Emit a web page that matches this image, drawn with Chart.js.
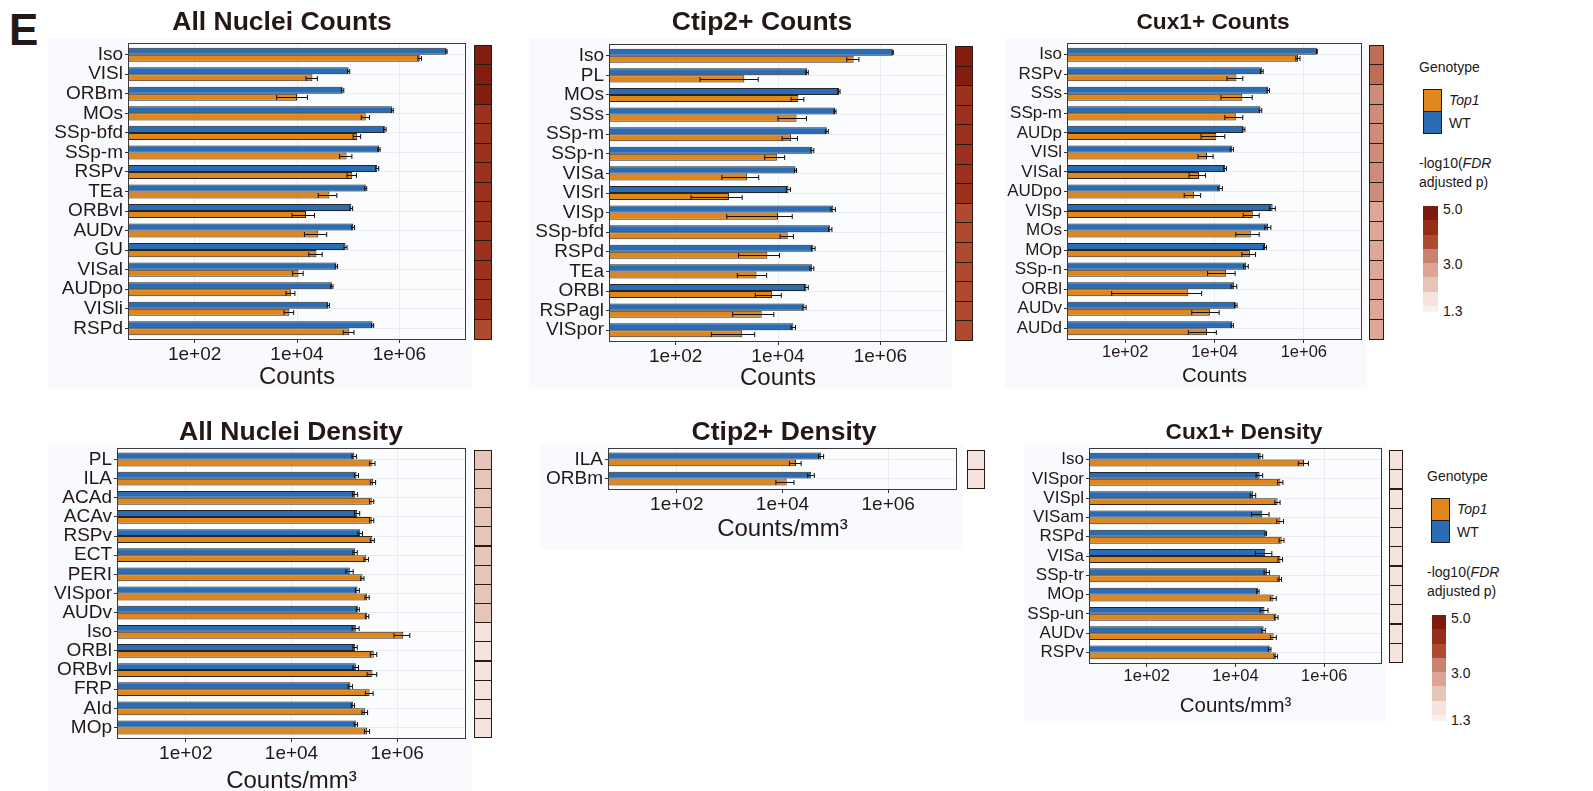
<!DOCTYPE html>
<html>
<head>
<meta charset="utf-8">
<script src="https://cdn.jsdelivr.net/npm/chart.js@4.4.1/dist/chart.umd.min.js"></script>
<style>
    body { margin: 0; width: 1593px; height: 791px; position: relative; overflow: hidden; background: #fff;
           font-family: "Liberation Sans", Arial, sans-serif; color: #231815; }
    .bg { position: absolute; background: #f8fafd; }
    canvas { position: absolute; }
    .txt { position: absolute; white-space: nowrap; line-height: 1; font-size: 14px; }
    .key { position: absolute; box-sizing: border-box; border: 1px solid #231815; width: 19px; }
    .bar { position: absolute; display: flex; flex-direction: column; }
</style>
</head>
<body>
<div class="txt" style="left:9px;top:8px;font-size:44px;font-weight:bold;">E</div>
<div id="root"></div>
<script>
    // shared x axis (log scale)
    var xTickVals = [1e2, 1e4, 1e6];
    var xTickLabels = ['1e+02', '1e+04', '1e+06'];
    var xMin = 5, xMax = 2e7;

    // All Nuclei Counts
    var nucCountCats = ['Iso', 'VISl', 'ORBm', 'MOs', 'SSp-bfd', 'SSp-m', 'RSPv', 'TEa', 'ORBvl', 'AUDv', 'GU', 'VISal', 'AUDpo', 'VISli', 'RSPd'];
    var nucCountWT = [8.3e6, 1.02e5, 7.8e4, 7.3e5, 5.2e5, 4.0e5, 3.7e5, 2.2e5, 1.15e5, 1.25e5, 8.9e4, 5.9e4, 4.8e4, 4.1e4, 3.0e5];
    var nucCountWTErr = [2.5e5, 5e3, 4e3, 3e4, 3e4, 2e4, 2.5e4, 1e4, 7e3, 8e3, 6e3, 3e3, 2.5e3, 2e3, 1.5e4];
    var nucCountTop1 = [2.5e6, 2.0e4, 1.0e4, 2.2e5, 1.5e5, 9.3e4, 1.2e5, 4.3e4, 1.5e4, 2.6e4, 2.4e4, 1.07e4, 7.6e3, 7.1e3, 1.05e5];
    var nucCountTop1Err = [2e5, 5e3, 6e3, 4e4, 2.5e4, 2.5e4, 2.5e4, 1.7e4, 7e3, 1.2e4, 7e3, 2.5e3, 1.5e3, 1.5e3, 2.5e4];
    var nucCountFdr = [4.9, 4.9, 4.9, 4.2, 4.2, 4.2, 4.2, 4.2, 4.2, 4.2, 4.2, 4.2, 4.2, 4.2, 3.8];

    // Ctip2+ Counts
    var ctipCountCats = ['Iso', 'PL', 'MOs', 'SSs', 'SSp-m', 'SSp-n', 'VISa', 'VISrl', 'VISp', 'SSp-bfd', 'RSPd', 'TEa', 'ORBl', 'RSPagl', 'VISpor'];
    var ctipCountWT = [1.74e6, 3.7e4, 1.55e5, 1.3e5, 9e4, 4.7e4, 2.2e4, 1.6e4, 1.2e5, 1.05e5, 4.9e4, 4.6e4, 3.6e4, 3.3e4, 2.0e4];
    var ctipCountWTErr = [5e4, 2e3, 8e3, 6e3, 6e3, 3e3, 1e3, 1.5e3, 1.2e4, 8e3, 4e3, 4e3, 3e3, 2.5e3, 2e3];
    var ctipCountTop1 = [3.0e5, 2.2e3, 2.5e4, 2.3e4, 1.8e4, 9.5e3, 2.5e3, 1.1e3, 1.0e4, 1.55e4, 6.2e3, 3.8e3, 7.6e3, 4.8e3, 2.0e3];
    var ctipCountTop1Err = [8e4, 1.9e3, 7e3, 1.3e4, 6e3, 4e3, 1.7e3, 900, 9e3, 4.5e3, 4.5e3, 2.2e3, 4e3, 3.5e3, 1.5e3];
    var ctipCountFdr = [4.9, 4.9, 4.2, 4.2, 4.2, 4.2, 4.2, 4.2, 3.8, 3.8, 3.8, 3.8, 3.8, 3.8, 3.8];

    // Cux1+ Counts
    var cuxCountCats = ['Iso', 'RSPv', 'SSs', 'SSp-m', 'AUDp', 'VISl', 'VISal', 'AUDpo', 'VISp', 'MOs', 'MOp', 'SSp-n', 'ORBl', 'AUDv', 'AUDd'];
    var cuxCountWT = [1.95e6, 1.15e5, 1.6e5, 1.07e5, 4.5e4, 2.45e4, 1.73e4, 1.35e4, 2.0e5, 1.58e5, 1.35e5, 5.1e4, 2.75e4, 3.0e4, 2.5e4];
    var cuxCountWTErr = [5e4, 8e3, 1e4, 7e3, 3e3, 2e3, 1.2e3, 1.5e3, 3e4, 2.5e4, 1e4, 6e3, 4e3, 2e3, 1.5e3];
    var cuxCountTop1 = [7.4e5, 3.1e4, 4.2e4, 3.0e4, 1.1e4, 6.8e3, 4.5e3, 3.5e3, 7.2e4, 6.5e4, 6.2e4, 1.8e4, 2.6e3, 7.9e3, 6.8e3];
    var cuxCountTop1Err = [8e4, 1.2e4, 2.8e4, 1.3e4, 6e3, 2.5e3, 1.8e3, 1.4e3, 2.8e4, 3.5e4, 2.1e4, 1.1e4, 2550, 4.8e3, 4.2e3];
    var cuxCountFdr = [3.5, 3.5, 3.15, 3.15, 3.15, 3.15, 3.15, 3.15, 2.75, 2.75, 2.75, 2.75, 2.75, 2.75, 2.75];

    // All Nuclei Density
    var nucDensCats = ['PL', 'ILA', 'ACAd', 'ACAv', 'RSPv', 'ECT', 'PERI', 'VISpor', 'AUDv', 'Iso', 'ORBl', 'ORBvl', 'FRP', 'AId', 'MOp'];
    var nucDensWT = [1.54e5, 1.7e5, 1.6e5, 1.75e5, 2.0e5, 1.6e5, 1.27e5, 1.77e5, 1.8e5, 1.65e5, 1.6e5, 1.65e5, 1.3e5, 1.45e5, 1.65e5];
    var nucDensWTErr = [1.5e4, 1.5e4, 1.8e4, 2e4, 2e4, 1.5e4, 2e4, 1.5e4, 1.2e4, 2.5e4, 1.5e4, 2e4, 1.2e4, 1e4, 1.2e4];
    var nucDensTop1 = [3.4e5, 3.5e5, 3.3e5, 3.3e5, 3.4e5, 2.6e5, 2.2e5, 2.7e5, 2.7e5, 1.3e6, 3.6e5, 3.4e5, 3.0e5, 2.45e5, 2.7e5];
    var nucDensTop1Err = [4e4, 4e4, 3e4, 3e4, 3e4, 2.5e4, 1.5e4, 2.5e4, 2e4, 4.3e5, 5e4, 7e4, 5e4, 3e4, 3e4];
    var nucDensFdr = [2.3, 2.3, 2.3, 2.3, 2.3, 2.3, 2.3, 2.3, 2.3, 1.8, 1.8, 1.8, 1.8, 1.8, 1.8];

    // Ctip2+ Density
    var ctipDensCats = ['ILA', 'ORBm'];
    var ctipDensWT = [5.4e4, 3.5e4];
    var ctipDensWTErr = [6e3, 5e3];
    var ctipDensTop1 = [1.8e4, 1.2e4];
    var ctipDensTop1Err = [4.5e3, 4.5e3];
    var ctipDensFdr = [1.8, 1.8];

    // Cux1+ Density
    var cuxDensCats = ['Iso', 'VISpor', 'VISpl', 'VISam', 'RSPd', 'VISa', 'SSp-tr', 'MOp', 'SSp-un', 'AUDv', 'RSPv'];
    var cuxDensWT = [3.7e4, 3.5e4, 2.5e4, 4.0e4, 4.8e4, 4.7e4, 5.1e4, 3.2e4, 4.5e4, 4.3e4, 5.9e4];
    var cuxDensWTErr = [4e3, 6e3, 3.5e3, 1.7e4, 2e3, 1.9e4, 7e3, 2e3, 9e3, 4e3, 4e3];
    var cuxDensTop1 = [3.5e5, 1.03e5, 8.9e4, 1.03e5, 1.1e5, 1.03e5, 1.0e5, 7.2e4, 8.3e4, 7.2e4, 8.1e4];
    var cuxDensTop1Err = [9e4, 1.4e4, 1.2e4, 1.8e4, 1.4e4, 1.2e4, 9e3, 1.1e4, 8e3, 1.1e4, 7e3];
    var cuxDensFdr = [1.8, 1.8, 1.8, 1.8, 1.8, 1.8, 1.8, 1.8, 1.8, 1.8, 1.8];

    // -log10(FDR) colour scale
    var fdrStops = [1.3, 1.8, 2.3, 2.8, 3.3, 3.8, 4.3, 5.0];
    var fdrColors = ['#f8f1ef', '#f4e3df', '#e7c4b8', '#dba493', '#c8826f', '#ae4b2f', '#972c18', '#7f1a0f'];

    var wtColor = '#2b6db4', top1Color = '#e0861b', ink = '#231815';

    Chart.defaults.font.family = '"Liberation Sans", Arial, sans-serif';
    Chart.defaults.color = ink;

    function hexToRgb(h) {
        return [parseInt(h.substr(1, 2), 16), parseInt(h.substr(3, 2), 16), parseInt(h.substr(5, 2), 16)];
    }

    function heatColor(v) {
        if (v <= fdrStops[0]) return fdrColors[0];
        for (var i = 1; i < fdrStops.length; i++) {
            if (v <= fdrStops[i]) {
                var t = (v - fdrStops[i - 1]) / (fdrStops[i] - fdrStops[i - 1]);
                var a = hexToRgb(fdrColors[i - 1]), b = hexToRgb(fdrColors[i]);
                return 'rgb(' + a.map(function (c, k) { return Math.round(c + (b[k] - c) * t); }).join(',') + ')';
            }
        }
        return fdrColors[fdrColors.length - 1];
    }

    // background, error bars, frame, heat strip and title
    var panelDecor = {
        id: 'panelDecor',
        beforeDraw: function (chart) {
            var a = chart.chartArea, ctx = chart.ctx;
            ctx.save();
            ctx.fillStyle = '#fbfcfe';
            ctx.fillRect(a.left, a.top, a.right - a.left, a.bottom - a.top);
            ctx.restore();
        },
        afterDatasetsDraw: function (chart) {
            var ctx = chart.ctx, xs = chart.scales.x;
            ctx.save();
            ctx.strokeStyle = '#111';
            ctx.lineWidth = 1;
            chart.data.datasets.forEach(function (ds, di) {
                chart.getDatasetMeta(di).data.forEach(function (bar, i) {
                    var m = ds.data[i].x, e = ds.errors[i];
                    var x0 = xs.getPixelForValue(Math.max(m - e, xMin));
                    var x1 = xs.getPixelForValue(m + e);
                    var y = Math.round(bar.y) + 0.5;
                    ctx.beginPath();
                    ctx.moveTo(x0, y); ctx.lineTo(x1, y);
                    ctx.moveTo(x0, y - 2.5); ctx.lineTo(x0, y + 2.5);
                    ctx.moveTo(x1, y - 2.5); ctx.lineTo(x1, y + 2.5);
                    ctx.stroke();
                });
            });
            ctx.restore();
        },
        afterDraw: function (chart, args, o) {
            var ctx = chart.ctx, a = chart.chartArea, ys = chart.scales.y;
            ctx.save();
            ctx.strokeStyle = '#3a3a3a';
            ctx.lineWidth = 1;
            ctx.strokeRect(Math.round(a.left) + 0.5, Math.round(a.top) + 0.5, Math.round(a.right - a.left) - 1, Math.round(a.bottom - a.top) - 1);

            var hx = Math.round(a.right + o.heatGap) + 0.5;
            o.fdr.forEach(function (v, i) {
                var y0 = ys.getPixelForValue(i + 0.5), y1 = ys.getPixelForValue(i + 1.5);
                var top = Math.round(Math.min(y0, y1)) + 0.5, h = Math.round(Math.abs(y1 - y0));
                ctx.fillStyle = heatColor(v);
                ctx.fillRect(hx, top, o.heatW, h);
                ctx.strokeStyle = '#2a1a14';
                ctx.strokeRect(hx, top, o.heatW, h);
            });

            ctx.fillStyle = ink;
            ctx.font = 'bold ' + o.titleSize + 'px "Liberation Sans", Arial, sans-serif';
            ctx.textAlign = 'center';
            ctx.textBaseline = 'middle';
            ctx.fillText(o.title, o.titleX, o.titleY);
            ctx.restore();
        }
    };

    var panels = [
        { title: 'All Nuclei Counts', axis: 'Counts', cats: nucCountCats, wt: nucCountWT, wtErr: nucCountWTErr, top1: nucCountTop1, top1Err: nucCountTop1Err, fdr: nucCountFdr,
          plot: [128, 43, 466, 340], titleX: 282, titleY: 23, small: false, axisOff: 38, heatGap: 8, heatW: 17, bg: [48, 38, 472, 388] },
        { title: 'Ctip2+ Counts', axis: 'Counts', cats: ctipCountCats, wt: ctipCountWT, wtErr: ctipCountWTErr, top1: ctipCountTop1, top1Err: ctipCountTop1Err, fdr: ctipCountFdr,
          plot: [609, 44, 947, 342], titleX: 762, titleY: 23, small: false, axisOff: 37, heatGap: 8, heatW: 17, bg: [529, 38, 952, 388] },
        { title: 'Cux1+ Counts', axis: 'Counts', cats: cuxCountCats, wt: cuxCountWT, wtErr: cuxCountWTErr, top1: cuxCountTop1, top1Err: cuxCountTop1Err, fdr: cuxCountFdr,
          plot: [1067, 43, 1362, 340], titleX: 1213, titleY: 23, small: true, axisOff: 37, heatGap: 7, heatW: 14, bg: [1005, 38, 1367, 388] },
        { title: 'All Nuclei Density', axis: 'Counts/mm\u00b3', cats: nucDensCats, wt: nucDensWT, wtErr: nucDensWTErr, top1: nucDensTop1, top1Err: nucDensTop1Err, fdr: nucDensFdr,
          plot: [117, 448, 466, 739], titleX: 291, titleY: 433, small: false, axisOff: 43, heatGap: 8, heatW: 17, bg: [48, 443, 472, 791] },
        { title: 'Ctip2+ Density', axis: 'Counts/mm\u00b3', cats: ctipDensCats, wt: ctipDensWT, wtErr: ctipDensWTErr, top1: ctipDensTop1, top1Err: ctipDensTop1Err, fdr: ctipDensFdr,
          plot: [608, 448, 957, 490], titleX: 784, titleY: 433, small: false, axisOff: 40, heatGap: 10, heatW: 17, bg: [540, 443, 963, 550] },
        { title: 'Cux1+ Density', axis: 'Counts/mm\u00b3', cats: cuxDensCats, wt: cuxDensWT, wtErr: cuxDensWTErr, top1: cuxDensTop1, top1Err: cuxDensTop1Err, fdr: cuxDensFdr,
          plot: [1089, 448, 1382, 664], titleX: 1244, titleY: 433, small: true, axisOff: 43, heatGap: 7, heatW: 13, bg: [1024, 443, 1386, 723] }
    ];

    var root = document.getElementById('root');

    panels.forEach(function (p) {
        var bg = document.createElement('div');
        bg.className = 'bg';
        bg.style.cssText = 'left:' + p.bg[0] + 'px;top:' + p.bg[1] + 'px;width:' + (p.bg[2] - p.bg[0]) + 'px;height:' + (p.bg[3] - p.bg[1]) + 'px;';
        root.appendChild(bg);
    });

    panels.forEach(function (p) {
        var L = p.plot[0], T = p.plot[1], R = p.plot[2], B = p.plot[3];
        var fs = p.small ? { label: 17, tick: 16.5, axis: 20.5, title: 22.7 } : { label: 19, tick: 19, axis: 24, title: 26.5 };
        var yW = 95, padTop = 40;
        var hX = Math.round(p.axisOff + 0.6 * fs.axis);
        var padRight = p.heatGap + p.heatW + 3;
        var left = L - yW, top = T - padTop;
        var width = R + padRight - left, height = B + hX - top;
        var n = p.cats.length;

        var canvas = document.createElement('canvas');
        canvas.width = width; canvas.height = height;
        canvas.style.cssText = 'left:' + left + 'px;top:' + top + 'px;width:' + width + 'px;height:' + height + 'px;';
        root.appendChild(canvas);

        new Chart(canvas, {
            type: 'bar',
            data: {
                datasets: [
                    { label: 'WT', data: p.wt.map(function (v, i) { return { x: v, y: i + 1 }; }), errors: p.wtErr,
                      backgroundColor: wtColor, borderColor: '#262626', borderWidth: 1, borderSkipped: false },
                    { label: 'Top1', data: p.top1.map(function (v, i) { return { x: v, y: i + 1 }; }), errors: p.top1Err,
                      backgroundColor: top1Color, borderColor: '#262626', borderWidth: 1, borderSkipped: false }
                ]
            },
            options: {
                indexAxis: 'y',
                responsive: false,
                animation: false,
                devicePixelRatio: 1,
                categoryPercentage: 0.72,
                barPercentage: 1,
                layout: { padding: { top: padTop, right: padRight, left: 0, bottom: 0 } },
                plugins: {
                    legend: { display: false },
                    tooltip: { enabled: false },
                    panelDecor: {
                        title: p.title, titleX: p.titleX - left, titleY: p.titleY - top, titleSize: fs.title,
                        fdr: p.fdr, heatGap: p.heatGap, heatW: p.heatW
                    }
                },
                scales: {
                    x: {
                        type: 'logarithmic', min: xMin, max: xMax,
                        afterBuildTicks: function (s) { s.ticks = xTickVals.map(function (v) { return { value: v }; }); },
                        afterFit: function (s) { s.height = hX; },
                        ticks: {
                            callback: function (v) { return xTickLabels[xTickVals.indexOf(v)]; },
                            font: { size: fs.tick }, color: ink, padding: 0, autoSkip: false, maxRotation: 0
                        },
                        grid: { color: '#e9ebee', tickColor: '#333', tickLength: 3, offset: false },
                        border: { display: false },
                        title: { display: true, text: p.axis, font: { size: fs.axis }, color: ink, padding: 0 }
                    },
                    y: {
                        type: 'linear', reverse: true, min: 0.4, max: n + 0.6, offset: false,
                        afterBuildTicks: function (s) { s.ticks = p.cats.map(function (c, i) { return { value: i + 1 }; }); },
                        afterFit: function (s) { s.width = yW; },
                        ticks: {
                            callback: function (v) { return p.cats[v - 1]; },
                            font: { size: fs.label }, color: ink, padding: 2, autoSkip: false
                        },
                        grid: { color: '#e9ebee', tickColor: '#333', tickLength: 3, offset: false },
                        border: { display: false }
                    }
                }
            },
            plugins: [panelDecor]
        });
    });

    // legends (Genotype + -log10 FDR colour bar)
    function addText(html, x, cy, extra) {
        var d = document.createElement('div');
        d.className = 'txt';
        d.innerHTML = html;
        d.style.cssText = 'left:' + x + 'px;top:' + (cy - 7) + 'px;' + (extra || '');
        root.appendChild(d);
    }

    function addLegend(g) {
        addText('Genotype', g.x, g.genoY);
        var k1 = document.createElement('div');
        k1.className = 'key';
        k1.style.cssText = 'left:' + g.keyX + 'px;top:' + g.keyY + 'px;height:23px;background:' + top1Color + ';';
        root.appendChild(k1);
        var k2 = document.createElement('div');
        k2.className = 'key';
        k2.style.cssText = 'left:' + g.keyX + 'px;top:' + (g.keyY + 22) + 'px;height:23px;background:' + wtColor + ';';
        root.appendChild(k2);
        addText('<i>Top1</i>', g.labX, g.keyY + 11);
        addText('WT', g.labX, g.keyY + 34);
        addText('-log10(<i>FDR</i>', g.x, g.fdrY);
        addText('adjusted p)', g.x, g.fdrY + 19);

        var bar = document.createElement('div');
        bar.className = 'bar';
        bar.style.cssText = 'left:' + g.barX + 'px;top:' + g.barY + 'px;width:' + g.barW + 'px;height:106px;';
        fdrColors.slice().reverse().forEach(function (c, i) {
            var s = document.createElement('div');
            s.style.cssText = 'background:' + c + ';height:' + (i === 7 ? 6 : 14.3) + 'px;';
            bar.appendChild(s);
        });
        root.appendChild(bar);
        addText('5.0', g.barX + g.barW + 5, g.barY + 3);
        addText('3.0', g.barX + g.barW + 5, g.barY + 58);
        addText('1.3', g.barX + g.barW + 5, g.barY + 105);
    }

    addLegend({ x: 1419, genoY: 67, keyX: 1423, keyY: 89, labX: 1449, fdrY: 163, barX: 1423, barY: 206, barW: 15 });
    addLegend({ x: 1427, genoY: 476, keyX: 1431, keyY: 498, labX: 1457, fdrY: 572, barX: 1432, barY: 615, barW: 14 });
</script>
</body>
</html>
